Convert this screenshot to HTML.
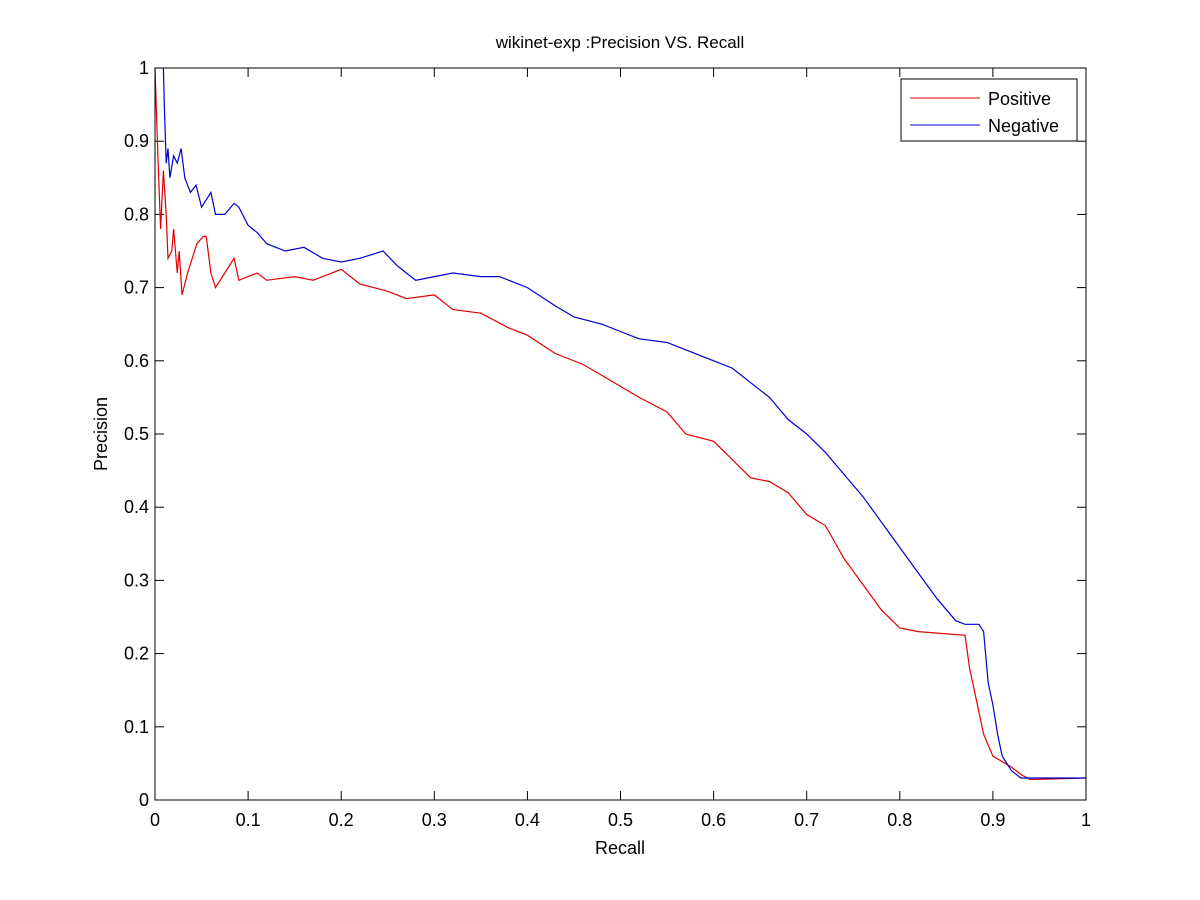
<!DOCTYPE html>
<html><head><meta charset="utf-8"><style>
body{margin:0;background:#fff;}
svg{display:block;font-family:"Liberation Sans",sans-serif;}
</style></head><body>
<svg id="chart" width="1200" height="900" xmlns="http://www.w3.org/2000/svg">
<rect width="1200" height="900" fill="#fff"/>
<text x="620" y="48" font-size="17" text-anchor="middle">wikinet-exp :Precision VS. Recall</text>
<g id="ticks"></g>
<g id="series"></g>
<rect x="155" y="68" width="931" height="732" fill="none" stroke="#000" stroke-width="1"/>
<text x="620" y="854" font-size="18" text-anchor="middle">Recall</text>
<text x="107" y="434" font-size="18" text-anchor="middle" transform="rotate(-90 107 434)">Precision</text>
<g>
<rect x="901" y="79" width="176" height="62" fill="#fff" stroke="#000"/>
<line x1="910" y1="98" x2="980" y2="98" stroke="#e00000"/>
<text x="988" y="105" font-size="18">Positive</text>
<line x1="910" y1="125" x2="980" y2="125" stroke="#0000d0"/>
<text x="988" y="132" font-size="18">Negative</text>
</g>
</svg>
<script>
const xTicks=[0,0.1,0.2,0.3,0.4,0.5,0.6,0.7,0.8,0.9,1];
const yTicks=[0,0.1,0.2,0.3,0.4,0.5,0.6,0.7,0.8,0.9,1];
const xTickLabels=["0","0.1","0.2","0.3","0.4","0.5","0.6","0.7","0.8","0.9","1"];
const yTickLabels=["0","0.1","0.2","0.3","0.4","0.5","0.6","0.7","0.8","0.9","1"];
const posRecall=[0,0.002,0.004,0.006,0.009,0.012,0.014,0.018,0.02,0.024,0.026,0.029,0.035,0.045,0.052,0.055,0.06,0.065,0.075,0.085,0.09,0.1,0.11,0.12,0.15,0.17,0.2,0.22,0.25,0.27,0.3,0.32,0.35,0.38,0.4,0.43,0.46,0.48,0.5,0.52,0.55,0.57,0.6,0.62,0.64,0.66,0.68,0.7,0.72,0.74,0.76,0.78,0.8,0.82,0.87,0.875,0.88,0.89,0.9,0.92,0.93,0.94,1];
const posPrecision=[1,0.92,0.85,0.78,0.86,0.8,0.74,0.75,0.78,0.72,0.75,0.69,0.72,0.76,0.77,0.77,0.72,0.70,0.72,0.74,0.71,0.715,0.72,0.71,0.715,0.71,0.725,0.705,0.695,0.685,0.69,0.67,0.665,0.645,0.635,0.61,0.595,0.58,0.565,0.55,0.53,0.5,0.49,0.465,0.44,0.435,0.42,0.39,0.375,0.33,0.295,0.26,0.235,0.23,0.225,0.18,0.15,0.09,0.06,0.045,0.035,0.028,0.03];
const negRecall=[0.009,0.01,0.012,0.014,0.016,0.02,0.024,0.028,0.032,0.038,0.044,0.05,0.06,0.065,0.075,0.085,0.09,0.1,0.11,0.12,0.14,0.16,0.18,0.2,0.22,0.245,0.26,0.27,0.28,0.3,0.32,0.35,0.37,0.4,0.43,0.45,0.48,0.5,0.52,0.55,0.57,0.6,0.62,0.64,0.66,0.68,0.7,0.72,0.74,0.76,0.78,0.8,0.82,0.84,0.86,0.87,0.885,0.89,0.895,0.9,0.905,0.91,0.92,0.93,1];
const negPrecision=[1,0.95,0.87,0.89,0.85,0.88,0.87,0.89,0.85,0.83,0.84,0.81,0.83,0.8,0.8,0.815,0.81,0.785,0.775,0.76,0.75,0.755,0.74,0.735,0.74,0.75,0.73,0.72,0.71,0.715,0.72,0.715,0.715,0.7,0.675,0.66,0.65,0.64,0.63,0.625,0.615,0.6,0.59,0.57,0.55,0.52,0.5,0.475,0.445,0.415,0.38,0.345,0.31,0.275,0.245,0.24,0.24,0.23,0.16,0.13,0.09,0.06,0.04,0.03,0.03];
const NS="http://www.w3.org/2000/svg";
const X0=155,X1=1086,Y0=800,Y1=68;
function sx(v){return X0+(X1-X0)*v;}
function sy(v){return Y0-(Y0-Y1)*v;}
const tg=document.getElementById('ticks');
function mk(tag,attrs,parent){const e=document.createElementNS(NS,tag);for(const k in attrs)e.setAttribute(k,attrs[k]);parent.appendChild(e);return e;}
xTicks.forEach((v,i)=>{
  const x=sx(v);
  let l=mk('line',{x1:x,y1:Y0,x2:x,y2:Y0-9,stroke:'#000'},tg);
  
  
  l=mk('line',{x1:x,y1:Y1,x2:x,y2:Y1+9,stroke:'#000'},tg);
  
  
  const t=mk('text',{x:x,y:Y0+26,'font-size':18,'text-anchor':'middle'},tg);
  t.textContent=xTickLabels[i];
  
  
});
yTicks.forEach((v,i)=>{
  const y=sy(v);
  let l=mk('line',{x1:X0,y1:y,x2:X0+9,y2:y,stroke:'#000'},tg);
  
  
  l=mk('line',{x1:X1,y1:y,x2:X1-9,y2:y,stroke:'#000'},tg);
  
  
  const t=mk('text',{x:X0-6,y:y+6,'font-size':18,'text-anchor':'end'},tg);
  t.textContent=yTickLabels[i];
  
  
});
const sg=document.getElementById('series');
function line(xs,ys,color,name){
  const d=xs.map((v,i)=>(i?'L':'M')+sx(v).toFixed(1)+' '+sy(ys[i]).toFixed(1)).join(' ');
  const p=mk('path',{d:d,fill:'none',stroke:color,'stroke-width':1.2},sg);
  
  
}
line(posRecall,posPrecision,'#e00000','positive-line');
line(negRecall,negPrecision,'#0000d0','negative-line');
</script>
</body></html>
